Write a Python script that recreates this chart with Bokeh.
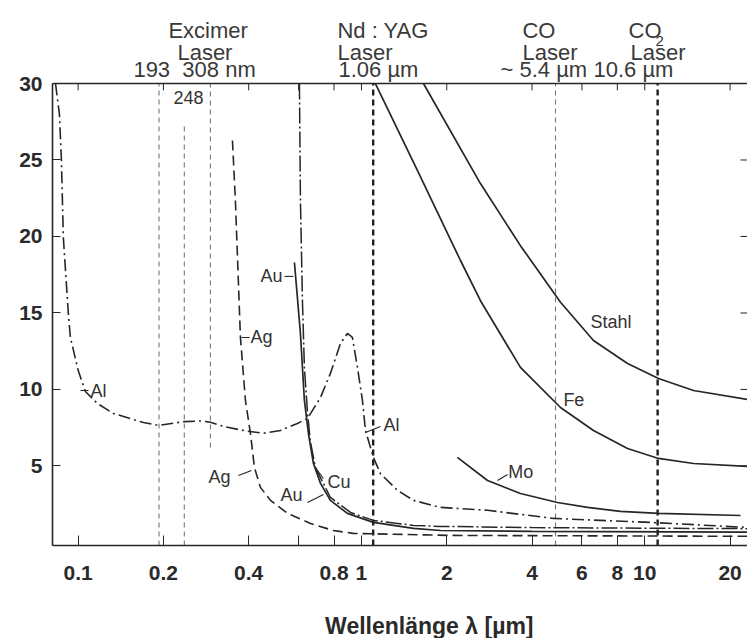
from bokeh.plotting import figure
from bokeh.layouts import column
from bokeh.models import (ColumnDataSource, FixedTicker, Range1d, CustomJSTickFormatter, Span)
from bokeh.core.properties import value
from bokeh.embed import file_html
from bokeh.resources import INLINE

# ---------------- data (wavelength in µm, absorption in %) ----------------
al_x = [0.0832, 0.0859, 0.0873, 0.0887, 0.0924, 0.0939, 0.1002, 0.1061, 0.117, 0.1332,
        0.170, 0.192, 0.237, 0.270, 0.293, 0.326, 0.396, 0.451, 0.518, 0.594, 0.645,
        0.717, 0.777, 0.843, 0.892, 0.929, 0.968, 1.008, 1.033, 1.102, 1.167, 1.340,
        1.526, 1.90, 2.786, 4.76, 10.73, 23.0]
al_y = [30.0, 28.0, 25.0, 19.9, 14.9, 13.4, 11.2, 9.87, 9.08, 8.43,
        7.84, 7.65, 7.9, 7.94, 7.86, 7.58, 7.27, 7.14, 7.32, 7.78, 8.1,
        9.48, 11.05, 13.0, 13.66, 13.4, 11.44, 9.28, 7.32, 5.56, 4.5, 3.4,
        2.75, 2.29, 2.1, 1.57, 1.3, 0.98]

ag_x = [0.3505, 0.359, 0.374, 0.3895, 0.4057, 0.419, 0.44, 0.4774, 0.548, 0.661, 0.796, 0.937, 2.06, 23.0]
ag_y = [26.27, 22.35, 13.4, 9.28, 7.12, 4.9, 3.6, 2.75, 1.9, 1.24, 0.78, 0.59, 0.46, 0.4]

au_x = [0.58, 0.609, 0.629, 0.650, 0.677, 0.717, 0.777, 0.892, 1.102, 1.526, 1.90, 4.0, 23.0]
au_y = [18.3, 13.66, 9.28, 7.12, 5.16, 3.86, 2.75, 1.9, 1.31, 0.92, 0.78, 0.72, 0.68]

cu_x = [0.604, 0.609, 0.619, 0.629, 0.645, 0.66, 0.688, 0.777, 0.915, 1.102, 1.526, 1.90, 4.0, 23.0]
cu_y = [30.0, 22.35, 15.8, 11.4, 8.5, 6.6, 4.9, 2.94, 1.96, 1.44, 1.11, 1.05, 0.97, 0.9]

mo_x = [2.18, 2.786, 3.64, 4.92, 6.28, 8.21, 11.18, 21.77]
mo_y = [5.56, 4.05, 3.2, 2.61, 2.29, 2.03, 1.9, 1.76]

fe_x = [1.12, 1.577, 2.236, 2.63, 3.64, 5.04, 6.59, 8.69, 11.18, 14.86, 23.0]
fe_y = [30.0, 24.3, 18.43, 15.8, 11.44, 8.82, 7.32, 6.14, 5.49, 5.16, 4.97]

stahl_x = [1.655, 2.63, 3.64, 5.04, 6.59, 8.69, 11.18, 14.86, 23.0]
stahl_y = [30.0, 23.46, 19.4, 15.7, 13.2, 11.7, 10.72, 9.93, 9.35]

# laser wavelength marker lines (µm) and their vertical extent (%)
laser_x = [0.193, 0.237, 0.293, 1.10, 4.84, 11.1]
laser_y0 = [-0.2, -0.2, 6.2, -0.2, -0.2, -0.2]
laser_y1 = [30.0, 27.4, 30.0, 30.0, 30.0, 30.0]
laser_heavy = [False, False, False, True, False, True]

x_ticks = [0.1, 0.2, 0.4, 0.6, 0.8, 1, 2, 4, 6, 8, 10, 20]
y_ticks = [5, 10, 15, 20, 25, 30]
right_ticks = [5, 10, 15, 20, 25]

# curve labels: text, x, y
curve_lbl_text = ["Al", "Ag", "Ag", "Au", "Au", "Cu", "Al", "Mo", "Fe", "Stahl", "248"]
curve_lbl_x = [0.1105, 0.4057, 0.2884, 0.44, 0.5176, 0.7585, 1.196, 3.30, 5.16, 6.43, 0.2169]
curve_lbl_y = [9.93, 13.4, 4.25, 17.39, 3.07, 3.92, 7.65, 4.58, 9.34, 14.44, 29.08]

# leader lines from labels to curves
lead_x0 = [0.1019, 0.377, 0.368, 0.535, 0.645, 0.688, 1.033, 3.02]
lead_x1 = [0.1088, 0.403, 0.409, 0.575, 0.734, 0.734, 1.167, 3.28]
lead_y0 = [9.93, 13.4, 4.38, 17.39, 2.61, 4.9, 7.19, 4.05]
lead_y1 = [9.93, 13.4, 4.71, 17.39, 3.14, 4.18, 7.58, 4.44]

# laser header texts above the 30 % line: text, x (left edge), y (baseline)
head_text = ["Excimer", "Laser", "193 \u00a0308 nm",
             "Nd : YAG", "Laser", "1.06 µm",
             "CO", "Laser", "~ 5.4 µm",
             "CO", "2", "Laser", "10.6 µm"]
head_x = [0.2083, 0.2241, 0.1567,
          0.8228, 0.8228, 0.8295,
          3.70, 3.70, 3.095,
          8.76, 10.91, 8.90, 6.59]
head_y = [33.46, 32.03, 30.92,
          33.46, 32.03, 30.92,
          33.46, 32.03, 30.92,
          33.46, 32.80, 32.03, 30.92]
head_size = ["22px"] * 10 + ["15px"] + ["22px"] * 2

X_LABEL = "Wellenlänge λ [µm]"

# ---------------- figures ----------------
INK = "#262626"
FONT = "Liberation Sans"
W = 747
MAIN_H = 600
FOOT_H = 638 - MAIN_H

xr = Range1d(0.0812, 23.04)

p = figure(width=W, height=MAIN_H, x_axis_type="log",
           x_range=xr, y_range=Range1d(-0.2, 35.426),
           output_backend="svg", toolbar_location=None,
           min_border_left=52, min_border_right=0, min_border_top=0, min_border_bottom=55)
p.outline_line_color = None
p.xgrid.visible = False
p.ygrid.visible = False

xa = p.xaxis[0]
xa.ticker = FixedTicker(ticks=x_ticks, minor_ticks=[])
xa.formatter = CustomJSTickFormatter(code="return (tick > 0.55 && tick < 0.65) ? '' : String(Math.round(tick*10)/10);")
xa.axis_line_color = INK
xa.axis_line_width = 1.6
xa.major_tick_in = 10
xa.major_tick_out = 0
xa.major_tick_line_color = INK
xa.major_label_text_font = FONT
xa.major_label_text_font_style = "bold"
xa.major_label_text_font_size = "21px"
xa.major_label_text_color = "#2a2a2a"
xa.major_label_standoff = 20

ya = p.yaxis[0]
ya.ticker = FixedTicker(ticks=y_ticks, minor_ticks=[])
ya.bounds = (-0.2, 30.0)
ya.axis_line_color = INK
ya.axis_line_width = 1.6
ya.major_tick_in = 8
ya.major_tick_out = 0
ya.major_tick_line_color = INK
ya.major_label_text_font = FONT
ya.major_label_text_font_style = "bold"
ya.major_label_text_font_size = "21px"
ya.major_label_text_color = "#2a2a2a"
ya.major_label_standoff = 10

# top frame line (30 %) and inner ticks on top / right
p.add_layout(Span(location=30.0, dimension="width", line_color=INK, line_width=1.6))
p.segment(x0=x_ticks, y0=[30.0] * len(x_ticks), x1=x_ticks, y1=[29.55] * len(x_ticks),
          line_color=INK, line_width=1)
p.segment(x0=[21.77] * len(right_ticks), y0=right_ticks, x1=[23.04] * len(right_ticks), y1=right_ticks,
          line_color=INK, line_width=1)

# laser lines
for lx, y0, y1, heavy in zip(laser_x, laser_y0, laser_y1, laser_heavy):
    if heavy:
        p.line([lx, lx], [y0, y1], line_color="#1e1e1e", line_width=2.4, line_dash="6 4")
    else:
        p.line([lx, lx], [y0, y1], line_color="#777777", line_width=1.1, line_dash="5 4")

# curves
p.line(al_x, al_y, line_color=INK, line_width=1.6, line_dash="12 4 2 4")
p.line(ag_x, ag_y, line_color=INK, line_width=1.6, line_dash="10 5")
p.line(au_x, au_y, line_color=INK, line_width=1.7)
p.line(cu_x, cu_y, line_color=INK, line_width=1.5, line_dash="16 3 2 3")
p.line(mo_x, mo_y, line_color=INK, line_width=1.7)
p.line(fe_x, fe_y, line_color=INK, line_width=1.7)
p.line(stahl_x, stahl_y, line_color=INK, line_width=1.7)

# leaders
p.segment(x0=lead_x0, y0=lead_y0, x1=lead_x1, y1=lead_y1, line_color=INK, line_width=1.1)

# curve labels
src = ColumnDataSource(dict(x=curve_lbl_x, y=curve_lbl_y, t=curve_lbl_text))
p.text(x="x", y="y", text="t", source=src, text_font=value(FONT), text_font_size="18px",
       text_color="#333333", text_align="left", text_baseline="middle")

# laser header texts
hsrc = ColumnDataSource(dict(x=head_x, y=head_y, t=head_text, s=head_size))
p.text(x="x", y="y", text="t", source=hsrc, text_font=value(FONT), text_font_size="s",
       text_color="#3a3a3a", text_align="left", text_baseline="alphabetic")

# footer strip with the x-axis title
f = figure(width=W, height=FOOT_H, x_range=Range1d(0, W), y_range=Range1d(0, FOOT_H),
           output_backend="svg", toolbar_location=None,
           x_axis_location=None, y_axis_location=None,
           min_border_left=0, min_border_right=0, min_border_top=0, min_border_bottom=0)
f.outline_line_color = None
f.xgrid.visible = False
f.ygrid.visible = False
f.text(x=[405], y=[13], text=[X_LABEL], text_font=value(FONT), text_font_style="bold",
       text_font_size="23px", text_color="#2a2a2a", text_align="center", text_baseline="middle")

layout = column(p, f, spacing=0)
open("out.html", "w").write(file_html(layout, INLINE))
